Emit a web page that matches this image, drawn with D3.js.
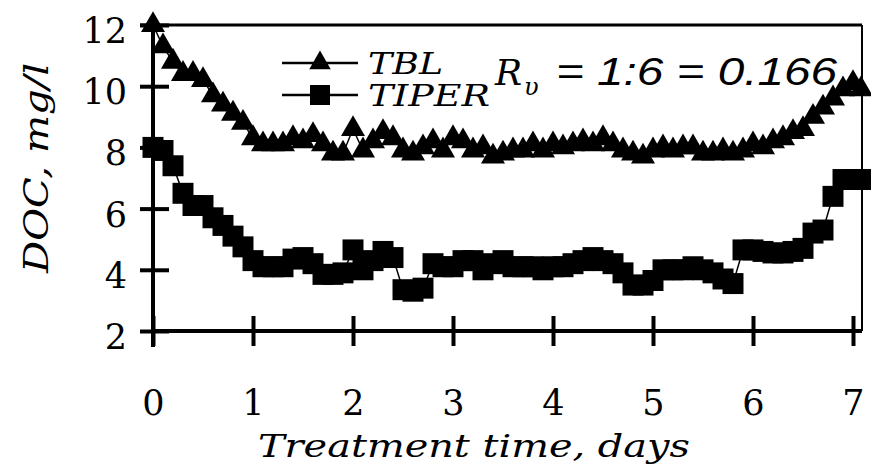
<!DOCTYPE html>
<html>
<head>
<meta charset="utf-8">
<title>DOC vs treatment time</title>
<style>
  html,body{margin:0;background:#fff;}
  svg{display:block;}
  .tick-label{font-family:"DejaVu Serif",serif;font-size:35px;fill:#000;}
  .ital{font-family:"DejaVu Serif",serif;font-style:italic;fill:#000;}
</style>
</head>
<body>
<div id="chart"></div>
<script src="https://cdn.jsdelivr.net/npm/d3@7"></script>
<script>
// data
const days = [0, 0.1, 0.2, 0.3, 0.4, 0.5, 0.6, 0.7, 0.8, 0.9,
              1.0, 1.1, 1.2, 1.3, 1.4, 1.5, 1.6, 1.7, 1.8, 1.9,
              2.0, 2.1, 2.2, 2.3, 2.4, 2.5, 2.6, 2.7, 2.8, 2.9,
              3.0, 3.1, 3.2, 3.3, 3.4, 3.5, 3.6, 3.7, 3.8, 3.9,
              4.0, 4.1, 4.2, 4.3, 4.4, 4.5, 4.6, 4.7, 4.8, 4.9,
              5.0, 5.1, 5.2, 5.3, 5.4, 5.5, 5.6, 5.7, 5.8, 5.9,
              6.0, 6.1, 6.2, 6.3, 6.4, 6.5, 6.6, 6.7, 6.8, 6.9,
              7.0, 7.08];
const tbl = [12, 11.3, 10.8, 10.4, 10.4, 10.2, 9.7, 9.4, 9.1, 8.8,
             8.3, 8.1, 8.1, 8.1, 8.3, 8.2, 8.4, 8.1, 7.8, 7.8,
             8.6, 7.9, 8.2, 8.5, 8.3, 7.9, 7.8, 8.0, 8.2, 7.9,
             8.3, 8.2, 7.9, 8.0, 7.7, 7.8, 7.9, 7.9, 8.1, 7.9,
             8.1, 8.0, 8.1, 8.2, 8.1, 8.3, 8.1, 7.9, 7.8, 7.7,
             7.9, 8.0, 7.9, 8.0, 8.0, 7.8, 7.8, 7.9, 7.8, 7.9,
             8.1, 8.0, 8.2, 8.3, 8.5, 8.6, 9.0, 9.3, 9.6, 9.9,
             10.1, 9.9];
const tiper = [8.0, 7.9, 7.4, 6.5, 6.1, 6.1, 5.7, 5.45, 5.1, 4.75,
               4.3, 4.1, 4.1, 4.1, 4.35, 4.4, 4.2, 3.85, 3.85, 3.9,
               4.65, 4.0, 4.3, 4.6, 4.4, 3.35, 3.3, 3.4, 4.2, 4.1,
               4.1, 4.3, 4.3, 4.0, 4.2, 4.3, 4.1, 4.1, 4.1, 4.0,
               4.1, 4.1, 4.2, 4.3, 4.4, 4.3, 4.2, 3.9, 3.5, 3.5,
               3.65, 4.0, 4.0, 4.0, 4.1, 4.0, 3.9, 3.7, 3.55, 4.65,
               4.65, 4.6, 4.55, 4.55, 4.6, 4.7, 5.2, 5.3, 6.4, 6.95,
               6.95, 6.95];
const xTicks = [0, 1, 2, 3, 4, 5, 6, 7];
const yTicks = [2, 4, 6, 8, 10, 12];
const seriesNames = ["TBL", "TIPER"];

const W = 871, H = 470;
const svg = d3.select("#chart").append("svg")
    .attr("width", W).attr("height", H);

const x = d3.scaleLinear().domain([0, 7.09]).range([153, 862]);
const y = d3.scaleLinear().domain([2, 12]).range([331, 25]);

// frame (top and right)
svg.append("line").attr("x1", 140).attr("x2", x(7.09))
    .attr("y1", y(12)).attr("y2", y(12))
    .attr("stroke", "#000").attr("stroke-width", 3);
svg.append("line").attr("x1", x(7.09)).attr("x2", x(7.09))
    .attr("y1", y(12)).attr("y2", y(2))
    .attr("stroke", "#000").attr("stroke-width", 2);

// x axis
const gx = svg.append("g")
    .attr("transform", `translate(0,${y(2)})`)
    .call(d3.axisBottom(x).tickValues(xTicks).tickSize(15).tickFormat(d3.format("d")));
gx.select(".domain").attr("stroke-width", 4).attr("d", `M153,0H${x(7.09)}`);
gx.selectAll(".tick line").attr("y1", -15).attr("stroke-width", 4);
gx.selectAll(".tick text").attr("class", "tick-label")
    .attr("font-family", null).attr("font-size", null)
    .attr("y", 84).attr("dy", null);

// y axis
const gy = svg.append("g")
    .attr("transform", `translate(${x(0)},0)`)
    .call(d3.axisLeft(y).tickValues(yTicks).tickSize(13).tickFormat(d3.format("d")));
gy.select(".domain").attr("stroke-width", 4).attr("d", `M0,${y(12)}V${y(2) + 16}`);
gy.selectAll(".tick line").attr("x1", 16).attr("stroke-width", 4);
gy.selectAll(".tick text").attr("class", "tick-label")
    .attr("font-family", null).attr("font-size", null)
    .attr("x", -26).attr("dy", "0.5em");

// axis titles
svg.append("text").attr("class", "ital")
    .attr("x", 258).attr("y", 457)
    .attr("font-size", 32)
    .attr("textLength", 432).attr("lengthAdjust", "spacingAndGlyphs")
    .text("Treatment time, days");
svg.append("text").attr("class", "ital")
    .attr("transform", "translate(48,168) rotate(-90)")
    .attr("text-anchor", "middle")
    .attr("font-size", 34)
    .attr("textLength", 210).attr("lengthAdjust", "spacingAndGlyphs")
    .text("DOC, mg/l");

// series
const line = d3.line().x((d, i) => x(days[i])).y(d => y(d));
const tri = d3.symbol().type(d3.symbolTriangle).size(250);
const sq = d3.symbol().type(d3.symbolSquare).size(440);

svg.append("path").datum(tbl).attr("d", line)
    .attr("fill", "none").attr("stroke", "#000").attr("stroke-width", 1.5);
svg.append("path").datum(tiper).attr("d", line)
    .attr("fill", "none").attr("stroke", "#000").attr("stroke-width", 1.5);

svg.append("g").selectAll("path").data(tbl).enter().append("path")
    .attr("d", tri)
    .attr("transform", (d, i) => `translate(${x(days[i])},${y(d)})`)
    .attr("fill", "#000");
svg.append("g").selectAll("path").data(tiper).enter().append("path")
    .attr("d", sq)
    .attr("transform", (d, i) => `translate(${x(days[i])},${y(d)})`)
    .attr("fill", "#000");

// legend
const legY = [63, 95];
const legTextW = [75, 122];
const legShape = [d3.symbol().type(d3.symbolTriangle).size(200), d3.symbol().type(d3.symbolSquare).size(400)];
const lg = svg.append("g");
seriesNames.forEach((name, i) => {
    lg.append("line").attr("x1", 282).attr("x2", 358)
        .attr("y1", legY[i]).attr("y2", legY[i])
        .attr("stroke", "#000").attr("stroke-width", 2.5);
    lg.append("path").attr("d", legShape[i])
        .attr("transform", `translate(320,${legY[i]})`).attr("fill", "#000");
    lg.append("text").attr("class", "ital")
        .attr("x", 368).attr("y", legY[i] + 11)
        .attr("font-size", 29)
        .attr("textLength", legTextW[i]).attr("lengthAdjust", "spacingAndGlyphs")
        .text(name);
});

// ratio annotation
svg.append("text").attr("class", "ital")
    .attr("x", 495).attr("y", 85).attr("font-size", 36).text("R");
svg.append("text").attr("class", "ital")
    .attr("x", 524).attr("y", 95).attr("font-size", 24).text("υ");
svg.append("text")
    .attr("x", 556).attr("y", 85)
    .attr("font-family", "'Liberation Sans', Arial, sans-serif")
    .attr("font-style", "italic").attr("font-size", 38)
    .attr("textLength", 281).attr("lengthAdjust", "spacingAndGlyphs")
    .text("= 1:6 = 0.166");
</script>
</body>
</html>
